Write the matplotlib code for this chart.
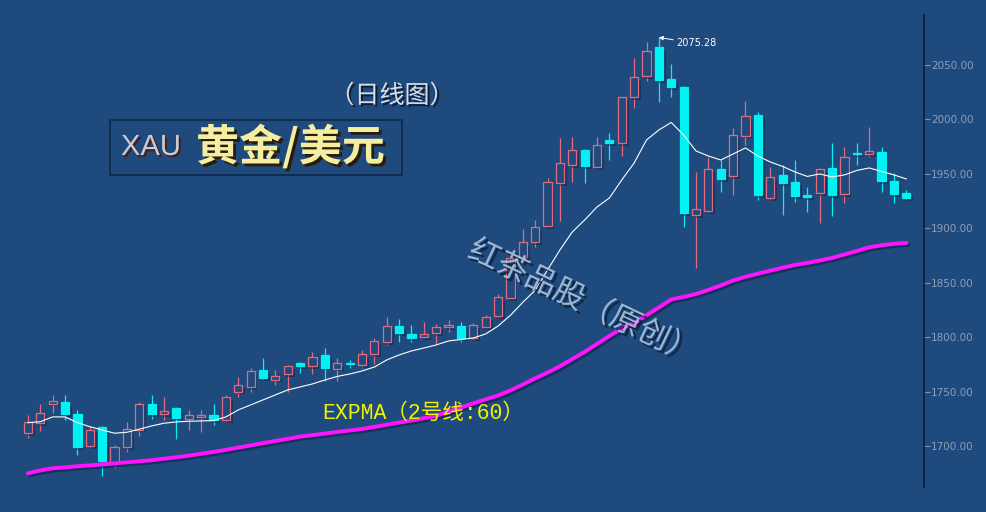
import numpy as np
import matplotlib.pyplot as plt
import matplotlib.patheffects as pe
from matplotlib.patches import Rectangle
from matplotlib.ticker import FormatStrFormatter

# daily candles, XAU/USD
opens = [1712, 1721, 1739, 1740, 1729, 1700, 1717, 1684, 1699, 1715,
         1739, 1729, 1735, 1725, 1727, 1728, 1724, 1750, 1754, 1770,
         1761, 1766, 1776, 1773, 1784, 1771, 1776.3, 1774, 1784.5, 1795.5,
         1810, 1803, 1800, 1804, 1809, 1810, 1799, 1809, 1819, 1836,
         1873, 1887, 1902, 1941.5, 1958, 1972, 1956, 1981, 1978, 2020.5,
         2040, 2066.5, 2037, 2030, 1912, 1916, 1954.5, 1948, 1985, 2004,
         1928, 1949, 1942.5, 1930.5, 1932.5, 1955.5, 1931.5, 1969, 1968, 1970,
         1943.5, 1932.5]
highs = [1728, 1739, 1747, 1747, 1733, 1718, 1718, 1701, 1722, 1740,
         1747, 1745, 1735.5, 1733, 1733, 1739, 1747, 1763, 1772, 1781,
         1770, 1774, 1777, 1786, 1790, 1781, 1779, 1788, 1799, 1818.5,
         1817, 1811, 1814, 1812, 1816, 1814, 1813, 1820, 1840, 1874,
         1899, 1908, 1946, 1983, 1984, 1972.5, 1984, 1987.5, 2021, 2056,
         2071, 2075.28, 2051, 2031, 1952, 1965.5, 1963, 1992, 2017, 2007,
         1956, 1958, 1962.5, 1938, 1955.5, 1978, 1974.5, 1978, 1993, 1974.5,
         1951, 1935]
lows = [1707, 1714, 1730, 1724, 1692, 1698, 1672, 1680, 1694, 1709,
        1725, 1724, 1706, 1715, 1713, 1719, 1722, 1745, 1750, 1761,
        1756, 1750, 1767, 1766, 1760, 1760, 1772, 1772, 1775, 1793,
        1795.5, 1795.5, 1799, 1794, 1805, 1795.5, 1797, 1808, 1817.5, 1835,
        1869, 1883, 1901, 1907, 1942.5, 1941.5, 1956, 1963, 1966, 2010.5,
        2035, 2016, 2020.5, 1901, 1863.5, 1914, 1933, 1930.5, 1976.5, 1926,
        1926, 1912, 1924, 1915, 1905, 1911, 1923, 1958, 1965.5, 1933,
        1923, 1927]
closes = [1722, 1730, 1741, 1729, 1699, 1715, 1686, 1699, 1716, 1739,
          1729, 1732, 1726, 1728, 1728, 1724, 1745, 1756, 1769, 1762,
          1764, 1773, 1773.5, 1782, 1772, 1776, 1775.5, 1784.5, 1796.5, 1810,
          1804, 1799, 1803, 1809, 1811, 1799, 1811, 1818.5, 1837, 1873,
          1887, 1901, 1942.5, 1960, 1972, 1957, 1976.5, 1978, 2020.5, 2039,
          2063, 2036, 2030, 1914, 1918, 1954.5, 1945, 1985.5, 2003, 1930.5,
          1947, 1941.5, 1929.5, 1928.5, 1954.5, 1930.5, 1965.5, 1968, 1971, 1943.5,
          1931.5, 1928]

# short average (white line)
ma_short = [1721.4, 1722.3, 1726.7, 1726.7, 1721.4, 1717.7, 1714.7, 1711.7, 1712.6, 1715.4,
            1718.4, 1720.9, 1722.1, 1722.7, 1723.0, 1723.3, 1726.7, 1733.1, 1737.7, 1742.3,
            1746.9, 1751.5, 1754.2, 1757.0, 1760.6, 1763.9, 1766.1, 1768.9, 1772.5, 1779.0,
            1783.6, 1787.3, 1790.0, 1792.8, 1796.5, 1797.8, 1799.2, 1802.9, 1810.2, 1820.0,
            1832.0, 1843.0, 1861.7, 1880.1, 1896.6, 1907.6, 1919.6, 1927.8, 1944.4, 1960.0,
            1981.1, 1990.3, 1997.2, 1985.7, 1971.0, 1966.4, 1962.7, 1968.2, 1973.8, 1966.4,
            1960.9, 1956.8, 1951.7, 1947.6, 1949.9, 1947.1, 1949.0, 1953.1, 1955.4, 1952.2,
            1949.0, 1945.3]

# EXPMA 60 (magenta line)
expma60 = [1674.9, 1677.5, 1679.5, 1680.3, 1681.4, 1682.1, 1683.1, 1684.0, 1685.0, 1685.9,
           1686.9, 1688.3, 1689.6, 1691.1, 1692.8, 1694.5, 1696.4, 1698.5, 1700.5, 1702.6,
           1704.6, 1706.5, 1708.6, 1709.9, 1711.4, 1712.9, 1714.2, 1715.6, 1717.5, 1719.5,
           1721.5, 1723.4, 1725.5, 1727.8, 1731.6, 1735.4, 1739.1, 1742.8, 1746.3, 1751.0,
           1756.4, 1762.1, 1767.4, 1773.2, 1779.8, 1786.4, 1793.7, 1801.1, 1808.0, 1812.7,
           1820.1, 1827.2, 1834.6, 1836.9, 1839.6, 1843.3, 1847.4, 1852.0, 1855.3, 1858.2,
           1861.0, 1863.7, 1866.3, 1868.1, 1870.4, 1872.7, 1875.9, 1879.1, 1882.5, 1884.3,
           1885.7, 1886.5]

y_ticks = [1700, 1750, 1800, 1850, 1900, 1950, 2000, 2050]
peak_value = 2075.28

bg = '#1f4a7e'
up_col = '#e26a7c'
down_col = '#00f2f2'
W, H = 986, 512

fig = plt.figure(figsize=(W / 100, H / 100), dpi=100, facecolor=bg)
ax = fig.add_axes([0, 25 / H, 924 / W, 472 / H], facecolor=bg)

n = len(opens)
x = np.arange(n)
shadow = [pe.SimplePatchShadow(offset=(2, -2), shadow_rgbFace='#0d2240', alpha=0.45), pe.Normal()]

for i in range(n):
    o, h, l, c = opens[i], highs[i], lows[i], closes[i]
    up = c >= o
    col = up_col if up else down_col
    ax.vlines(x[i], l, h, color=col, lw=0.9, zorder=2)
    body = max(abs(c - o), 0.9)
    rect = Rectangle((x[i] - 0.33, min(o, c)), 0.66, body,
                     facecolor=bg if up else down_col, edgecolor=col,
                     lw=0.9, zorder=3)
    rect.set_path_effects(shadow)
    ax.add_patch(rect)

ax.plot(x, ma_short, color='white', lw=0.8, zorder=4)
ax.plot(x, expma60, color='#ff14ff', lw=2.8, zorder=4, solid_capstyle='round',
        path_effects=[pe.SimpleLineShadow(offset=(1.5, -1.5), shadow_color='#0d2240', alpha=0.6),
                      pe.Normal()])

ipk = int(np.argmax(highs))
ax.annotate('%.2f' % peak_value, xy=(x[ipk], peak_value), xytext=(17, -6),
            textcoords='offset pixels', color='white', fontsize=7, va='center', ha='left',
            arrowprops=dict(arrowstyle='-|>', color='white', lw=0.7,
                            mutation_scale=6, shrinkA=0, shrinkB=0))

ax.set_xlim(-2.26, 72.43)
ax.set_ylim(1662.3, 2095.9)
for s in ['top', 'left', 'bottom']:
    ax.spines[s].set_visible(False)
ax.spines['right'].set_color('#0b1d38')
ax.spines['right'].set_linewidth(1.2)
ax.set_xticks([])
ax.yaxis.tick_right()
ax.set_yticks(y_ticks)
ax.yaxis.set_major_formatter(FormatStrFormatter('%.2f'))
ax.tick_params(axis='y', colors='#7f93b0', labelcolor='#8d9db5', labelsize=7.5,
               length=4, width=0.8, pad=1)

cjk = ['Noto Sans CJK SC', 'DejaVu Sans']
txt_shadow = [pe.SimplePatchShadow(offset=(1.5, -1.5), shadow_rgbFace='#0b1a30', alpha=0.9), pe.Normal()]

fig.text(392 / W, 1 - 96 / H, '（日线图）', family=cjk, fontsize=18, color='#d9dfe9',
         ha='center', va='center', path_effects=txt_shadow)

fig.add_artist(Rectangle((110 / W, 1 - 175 / H), 292 / W, 55 / H, transform=fig.transFigure,
                         fill=False, edgecolor='#10284a', lw=1.2))
fig.text(121 / W, 1 - 147 / H, 'XAU', family='Liberation Sans', fontsize=21, color='#c9ccd6',
         ha='left', va='center',
         path_effects=[pe.SimplePatchShadow(offset=(1.5, -1.5), shadow_rgbFace='#4a1f1a', alpha=1), pe.Normal()])
fig.text(196 / W, 1 - 147 / H, '黄金/美元', family=cjk, fontsize=31, fontweight='bold',
         color='#f3eea0', ha='left', va='center',
         path_effects=[pe.SimplePatchShadow(offset=(2, -2), shadow_rgbFace='#2b1c0a', alpha=1), pe.Normal()])

fig.text(322 / W, 1 - 413 / H, 'EXPMA（2号线:60）', family=['Liberation Mono', 'Noto Sans CJK SC'],
         fontsize=15.5, color='#f2f200', ha='left', va='center')

fig.text(583 / W, 1 - 302 / H, '红茶品股（原创）', family=cjk, fontsize=22.5, color='#b2cbe6',
         alpha=0.85, rotation=-25.5, rotation_mode='anchor', ha='center', va='center',
         path_effects=[pe.SimplePatchShadow(offset=(2, -2), shadow_rgbFace='#0b1a30', alpha=0.7), pe.Normal()])

fig.savefig('out.png', dpi=100, facecolor=bg)
